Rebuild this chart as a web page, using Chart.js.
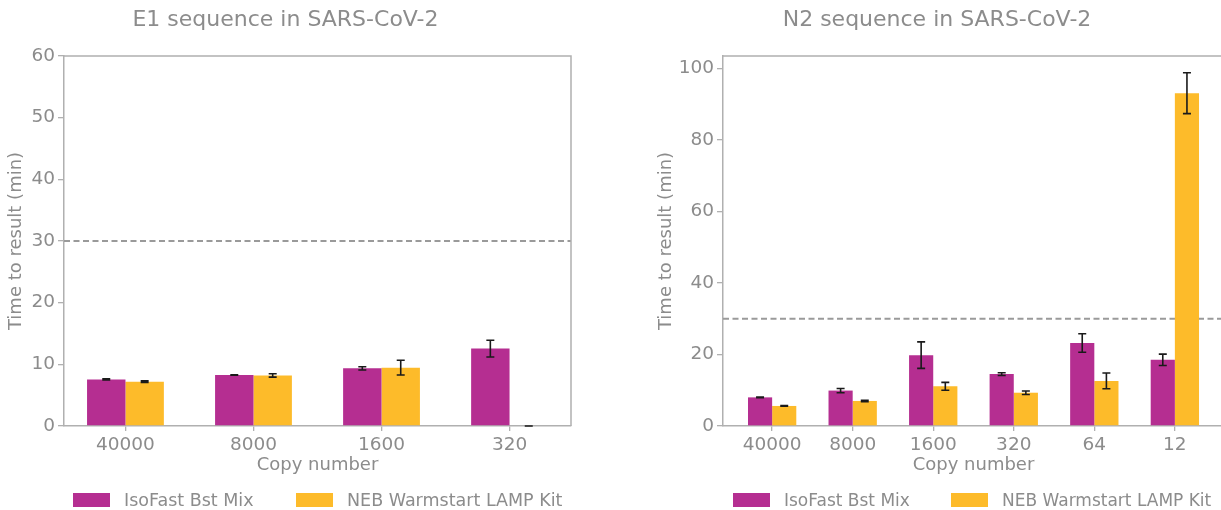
<!DOCTYPE html>
<html lang="en">
<head>
<meta charset="UTF-8">
<title>Time to result - SARS-CoV-2 LAMP</title>
<script src="https://cdn.jsdelivr.net/npm/chart.js@4"></script>
<style>
    html, body {
        margin: 0;
        padding: 0;
        width: 1221px;
        height: 510px;
        overflow: hidden;
        background: #fff;
        font-family: "DejaVu Sans", sans-serif;
    }
    .panel {
        position: absolute;
        top: 0;
        height: 510px;
    }
    #panelE1 { left: 0; width: 610px; }
    #panelN2 { left: 610px; width: 640px; }
    .legend {
        position: absolute;
        top: 491px;
        left: 0;
        right: 0;
        height: 19px;
    }
    .legend-item {
        position: absolute;
        top: 0;
        height: 18px;
        display: flex;
        align-items: center;
        color: #8c8c8c;
        font-size: 17.5px;
        white-space: nowrap;
    }
    #legendN2 .legend-item { font-size: 17px; }
    .legend-item .box {
        display: inline-block;
        width: 37px;
        height: 14px;
        margin-right: 14px;
    }
</style>
</head>
<body>

<div class="panel" id="panelE1">
    <canvas id="chartE1"></canvas>
    <div class="legend" id="legendE1"></div>
</div>
<div class="panel" id="panelN2">
    <canvas id="chartN2"></canvas>
    <div class="legend" id="legendN2"></div>
</div>

<script>
    // values (minutes)
    const e1Copies = ['40000', '8000', '1600', '320'];
    const e1IsoFast = [7.55, 8.27, 9.35, 12.55];
    const e1IsoFastErr = [0.1, 0.05, 0.27, 1.35];
    const e1Neb = [7.19, 8.2, 9.46, 0];
    const e1NebErr = [0.12, 0.27, 1.2, 0];

    const n2Copies = ['40000', '8000', '1600', '320', '64', '12'];
    const n2IsoFast = [8.0, 9.9, 19.8, 14.5, 23.2, 18.5];
    const n2IsoFastErr = [0.12, 0.6, 3.7, 0.4, 2.6, 1.6];
    const n2Neb = [5.6, 7.0, 11.1, 9.3, 12.6, 93.0];
    const n2NebErr = [0.1, 0.2, 1.1, 0.5, 2.2, 5.7];

    const cutoffMinutes = 30;
    const seriesNames = ['IsoFast Bst Mix', 'NEB Warmstart LAMP Kit'];

    const ISO_COLOR = '#b52e91';
    const NEB_COLOR = '#fdbb2a';
    const TEXT_COLOR = '#8c8c8c';
    const AXIS_COLOR = '#b0b0b0';
    const FONT = 'DejaVu Sans';

    // dashed cut-off line, frame on top/right, error bars
    const decorPlugin = {
        id: 'decor',
        beforeDatasetsDraw(chart, args, opts) {
            const { ctx, chartArea: a, scales: { y } } = chart;
            const yy = y.getPixelForValue(opts.cutoff);
            ctx.save();
            ctx.strokeStyle = '#9a9a9a';
            ctx.lineWidth = 2;
            ctx.setLineDash([6, 3.5]);
            ctx.beginPath();
            ctx.moveTo(a.left, yy);
            ctx.lineTo(a.right, yy);
            ctx.stroke();
            ctx.restore();
        },
        afterDatasetsDraw(chart) {
            const { ctx, chartArea: a, scales: { y } } = chart;
            ctx.save();
            ctx.strokeStyle = AXIS_COLOR;
            ctx.lineWidth = 1.5;
            ctx.beginPath();
            ctx.moveTo(a.left, a.top);
            ctx.lineTo(a.right, a.top);
            ctx.lineTo(a.right, a.bottom);
            ctx.stroke();

            ctx.strokeStyle = '#1a1a1a';
            ctx.lineWidth = 1.6;
            chart.data.datasets.forEach((ds, d) => {
                const meta = chart.getDatasetMeta(d);
                meta.data.forEach((bar, i) => {
                    const v = ds.data[i].y;
                    const err = ds.errors[i];
                    const hi = y.getPixelForValue(v + err);
                    const lo = y.getPixelForValue(v - err);
                    ctx.beginPath();
                    ctx.moveTo(bar.x, hi);
                    ctx.lineTo(bar.x, lo);
                    ctx.moveTo(bar.x - 4, hi);
                    ctx.lineTo(bar.x + 4, hi);
                    ctx.moveTo(bar.x - 4, lo);
                    ctx.lineTo(bar.x + 4, lo);
                    ctx.stroke();
                });
            });
            ctx.restore();
        }
    };

    function buildLegend(id, chart, positions) {
        const box = document.getElementById(id);
        chart.data.datasets.forEach((ds, i) => {
            const item = document.createElement('div');
            item.className = 'legend-item';
            item.style.left = positions[i] + 'px';
            const swatch = document.createElement('span');
            swatch.className = 'box';
            swatch.style.background = ds.backgroundColor;
            item.appendChild(swatch);
            item.appendChild(document.createTextNode(ds.label));
            box.appendChild(item);
        });
    }

    function makeChart(canvasId, s) {
        const font = { family: FONT, size: 18 };
        const tickFont = { family: FONT, size: 18.5 };
        const toPoints = vals => vals.map((v, i) => ({ x: i, y: v }));
        return new Chart(document.getElementById(canvasId), {
            type: 'bar',
            data: {
                datasets: [
                    { label: seriesNames[0], data: toPoints(s.iso), errors: s.isoErr,
                      backgroundColor: ISO_COLOR, borderWidth: 0 },
                    { label: seriesNames[1], data: toPoints(s.neb), errors: s.nebErr,
                      backgroundColor: NEB_COLOR, borderWidth: 0 }
                ]
            },
            options: {
                responsive: true,
                maintainAspectRatio: false,
                animation: false,
                datasets: { bar: { categoryPercentage: 0.6, barPercentage: 1.0 } },
                layout: { padding: { left: s.padLeft, right: s.padRight, top: 0, bottom: 24 } },
                plugins: {
                    legend: { display: false },
                    tooltip: { enabled: false },
                    title: {
                        display: true,
                        text: s.title,
                        color: TEXT_COLOR,
                        font: { family: FONT, size: 22, weight: 'normal' },
                        padding: { top: 7, bottom: 22.6 }
                    },
                    decor: { cutoff: cutoffMinutes }
                },
                scales: {
                    x: {
                        type: 'linear',
                        min: s.xMin,
                        max: s.xMax,
                        offset: false,
                        grid: { offset: false, drawOnChartArea: false, tickLength: 5, color: AXIS_COLOR, lineWidth: 1.3 },
                        border: { color: AXIS_COLOR, width: 1.5 },
                        ticks: { color: TEXT_COLOR, font: tickFont, padding: 3, maxRotation: 0, autoSkip: false,
                                 callback: v => s.copies[v] },
                        afterBuildTicks: sc => { sc.ticks = s.copies.map((_, i) => ({ value: i })); },
                        afterFit: sc => { sc.height = 60; },
                        title: { display: true, text: 'Copy number', color: TEXT_COLOR, font,
                                 padding: { top: 0, bottom: 10 } }
                    },
                    y: {
                        min: 0,
                        max: s.yMax,
                        grid: { drawOnChartArea: false, tickLength: 6, color: AXIS_COLOR, lineWidth: 1.3 },
                        border: { color: AXIS_COLOR, width: 1.5 },
                        ticks: { color: TEXT_COLOR, font: tickFont, padding: 3, stepSize: s.yStep, includeBounds: false },
                        afterFit: sc => { sc.width = s.yWidth; },
                        title: { display: true, text: 'Time to result (min)', color: TEXT_COLOR, font,
                                 padding: { top: 6, bottom: 0 } }
                    }
                }
            },
            plugins: [decorPlugin]
        });
    }

    const e1Chart = makeChart('chartE1', {
        title: 'E1 sequence in SARS-CoV-2',
        copies: e1Copies, iso: e1IsoFast, isoErr: e1IsoFastErr, neb: e1Neb, nebErr: e1NebErr,
        xMin: -0.48, xMax: 3.48, yMax: 60, yStep: 10,
        padLeft: 0, padRight: 39, yWidth: 64
    });
    const n2Chart = makeChart('chartN2', {
        title: 'N2 sequence in SARS-CoV-2',
        copies: n2Copies, iso: n2IsoFast, isoErr: n2IsoFastErr, neb: n2Neb, nebErr: n2NebErr,
        xMin: -0.61, xMax: 5.61, yMax: 103.4, yStep: 20,
        padLeft: 40, padRight: 26, yWidth: 73
    });

    buildLegend('legendE1', e1Chart, [73, 296]);
    buildLegend('legendN2', n2Chart, [123, 341]);
</script>

</body>
</html>
